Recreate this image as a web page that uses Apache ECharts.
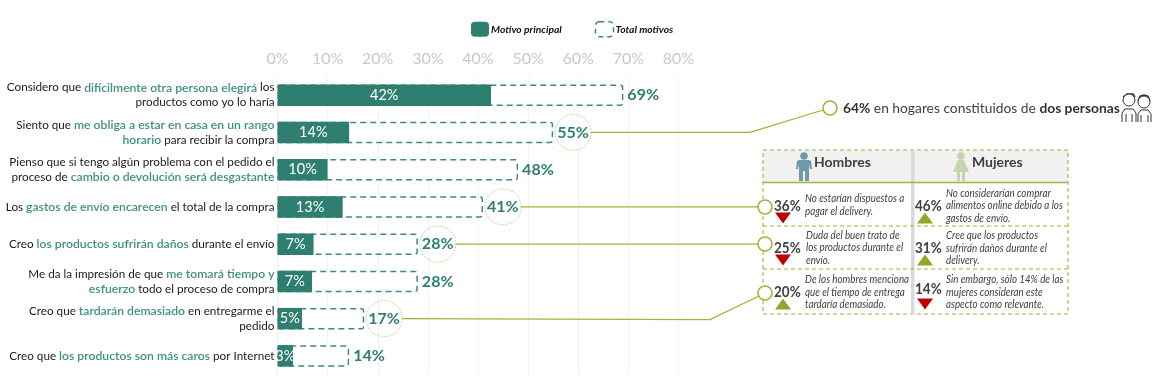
<!DOCTYPE html>
<html>
<head>
<meta charset="utf-8">
<style>
  html, body { margin: 0; padding: 0; background: #fff; }
  #main { width: 1162px; height: 389px; }
</style>
<script src="https://cdn.jsdelivr.net/npm/echarts@6/dist/echarts.min.js"></script>
</head>
<body>
<div id="main"></div>
<script>
// eje y barras
var categories = [
  'Considero que {g|difícilmente otra persona elegirá} los\nproductos como yo lo haría',
  'Siento que {g|me obliga a estar en casa en un rango}\n{g|horario} para recibir la compra',
  'Pienso que si tengo algún problema con el pedido el\nproceso de {g|cambio o devolución será desgastante}',
  'Los {g|gastos de envío encarecen} el total de la compra',
  'Creo {g|los productos sufrirán daños} durante el envío',
  'Me da la impresión de que {g|me tomará tiempo y}\n{g|esfuerzo} todo el proceso de compra',
  'Creo que {g|tardarán demasiado} en entregarme el\npedido',
  'Creo que {g|los productos son más caros} por Internet'
];
var motivoPrincipal = [42.6, 14.3, 10, 13, 7.2, 6.9, 4.9, 3.1];
var motivoLabels = ['42%', '14%', '10%', '13%', '7%', '7%', '5%', '3%'];
var totalMotivos = [69, 55, 48, 41, 28, 28, 17.3, 14.3];
var totalLabels = ['69%', '55%', '48%', '41%', '28%', '28%', '17%', '14%'];

// panel hombres / mujeres
var hombresPct = ['36%', '25%', '20%'];
var hombresDir = ['down', 'down', 'up'];
var hombresText = [
  'No estarían dispuestos a\npagar el delivery.',
  'Duda del buen trato de\nlos productos durante el\nenvío.',
  'De los hombres menciona\nque el tiempo de entrega\ntardaría demasiado.'
];
var mujeresPct = ['46%', '31%', '14%'];
var mujeresDir = ['up', 'up', 'down'];
var mujeresText = [
  'No considerarían comprar\nalimentos online debido a los\ngastos de envío.',
  'Cree que los productos\nsufrirán daños durante el\ndelivery.',
  'Sin embargo, sólo 14% de las\nmujeres consideran este\naspecto como relevante.'
];

var FONT = 'Lato, Carlito, sans-serif';
var TEAL = '#2f7f70';
var LIME = '#9ab83b';
var RED = '#c00000';
var OLIVE = '#8ea82c';

var myChart = echarts.init(document.getElementById('main'));

var option = {
  animation: false,
  textStyle: { fontFamily: FONT },
  legend: {
    left: 471,
    top: 21,
    itemWidth: 18,
    itemHeight: 15,
    itemGap: 33,
    padding: 0,
    selectedMode: false,
    data: [
      { name: 'Motivo principal' },
      { name: 'Total motivos', itemStyle: { color: '#fff', borderColor: '#3f8a7c', borderWidth: 1.4, borderType: [5, 4] } }
    ],
    textStyle: { fontFamily: FONT, fontSize: 10.3, fontStyle: 'italic', fontWeight: 'bold', color: '#111', padding: [0, 0, 0, -3] }
  },
  grid: { left: 277.5, top: 76.5, width: 401, height: 298, outerBoundsMode: 'none' },
  xAxis: {
    type: 'value',
    position: 'top',
    min: 0,
    max: 80,
    interval: 10,
    axisLine: { show: false },
    axisTick: { show: false },
    axisLabel: { formatter: '{value}%', color: '#c8c8c8', fontSize: 16, fontFamily: FONT, margin: 10 },
    splitLine: { lineStyle: { color: '#f2f2f2', width: 1 } }
  },
  yAxis: {
    type: 'category',
    inverse: true,
    data: categories,
    axisLine: { show: false },
    axisTick: { show: false },
    axisLabel: {
      margin: 3,
      color: '#1a1a1a',
      fontFamily: FONT,
      fontSize: 11.7,
      lineHeight: 15,
      rich: {
        g: { color: '#3f8f80', fontFamily: FONT, fontSize: 12.2, fontWeight: 600, lineHeight: 15 }
      }
    }
  },
  series: [
    {
      name: 'Total motivos',
      type: 'bar',
      data: totalMotivos,
      barWidth: 21.5,
      barGap: '-100%',
      z: 2,
      itemStyle: { color: '#fff', borderColor: '#3f8a7c', borderWidth: 1.5, borderType: [6, 4], borderRadius: 2 },
      label: {
        show: true,
        position: 'right',
        distance: 4,
        color: TEAL,
        fontFamily: FONT,
        fontSize: 16,
        fontWeight: 'bold',
        formatter: function (p) { return totalLabels[p.dataIndex]; }
      }
    },
    {
      name: 'Motivo principal',
      type: 'bar',
      data: motivoPrincipal,
      barWidth: 21.5,
      barGap: '-100%',
      z: 3,
      itemStyle: { color: TEAL },
      label: {
        show: true,
        position: 'inside',
        color: '#fff',
        fontFamily: FONT,
        fontSize: 14.5,
        formatter: function (p) { return motivoLabels[p.dataIndex]; }
      }
    }
  ]
};
myChart.setOption(option);

// anotaciones
function txt(x, y, text, fontSize, extra, scaleX) {
  var style = { x: 0, y: 0, text: text, fill: '#404040', font: fontSize + 'px ' + FONT, verticalAlign: 'middle' };
  for (var k in extra) style[k] = extra[k];
  return { type: 'text', z: 20, x: x, y: y, scaleX: scaleX || 1, style: style };
}
function line(points, color, width, dash) {
  return {
    type: 'polyline',
    z: 10,
    shape: { points: points },
    style: { stroke: color, lineWidth: width || 1.3, lineDash: dash || null, fill: null }
  };
}
function dot(x, y) {
  return { type: 'circle', z: 12, shape: { cx: x, cy: y, r: 7 }, style: { fill: '#fff', stroke: LIME, lineWidth: 1.6 } };
}
function ring(x, y) {
  return { type: 'circle', z: 11, shape: { cx: x, cy: y, r: 18 }, style: { fill: 'rgba(255,255,255,0)', stroke: '#b5c86e', lineWidth: 1, lineDash: [1.5, 1.5] } };
}
function tri(x, y, dir) {
  var w = 8, h = 11;
  var pts = dir === 'up'
    ? [[x - w, y + h / 2], [x + w, y + h / 2], [x, y - h / 2]]
    : [[x - w, y - h / 2], [x + w, y - h / 2], [x, y + h / 2]];
  return { type: 'polygon', z: 15, shape: { points: pts }, style: { fill: dir === 'up' ? OLIVE : RED } };
}
function rectBox(x, y, w, h, style) {
  return { type: 'rect', z: 5, shape: { x: x, y: y, width: w, height: h }, style: style };
}
function poly(points, fill) {
  return { type: 'polygon', z: 15, shape: { points: points }, style: { fill: fill } };
}

var els = [];

// circulos punteados sobre las etiquetas, salen de la posicion de cada barra
function ringAt(i) {
  var p = myChart.convertToPixel({ gridIndex: 0 }, [totalMotivos[i], i]);
  return [p[0] + 20, p[1]];
}
var r55 = ringAt(1), r41 = ringAt(3), r28 = ringAt(4), r17 = ringAt(6);
els.push(ring(r55[0], r55[1]), ring(r41[0], r41[1]), ring(r28[0], r28[1]), ring(r17[0], r17[1]));
els.push(line([[r55[0] + 18, r55[1]], [750, r55[1]], [823, 110]], LIME, 1.3));
els.push(line([[r41[0] + 18, r41[1]], [758, r41[1]]], LIME, 1.3));
els.push(line([[r28[0] + 18, r28[1]], [758, r28[1]]], LIME, 1.3));
els.push(line([[r17[0] + 18, r17[1]], [710, r17[1] + 1], [759, 296]], LIME, 1.3));
els.push(dot(830, 108), dot(765, 207), dot(765, 244), dot(765, 293));

els.push(txt(843, 109, '{b|64%} en hogares constituidos de {b|dos personas}', 13.8, {
  rich: { b: { fontFamily: FONT, fontSize: 13.8, fontWeight: 'bold', fill: '#333' } }
}));

// panel
els.push(rectBox(763, 150, 305, 32, { fill: '#f1f1f1' }));
els.push(rectBox(763, 150, 305, 164, { fill: 'rgba(255,255,255,0)', stroke: LIME, lineWidth: 1.1, lineDash: [4, 3] }));
els.push(line([[763, 182.5], [1068, 182.5]], LIME, 1.3));
els.push(line([[763, 226], [1068, 226]], LIME, 1.1, [4, 3]));
els.push(line([[763, 269], [1068, 269]], LIME, 1.1, [4, 3]));
els.push(rectBox(911, 150, 3.5, 165, { fill: '#d9d9d9' }));

els.push(txt(814, 162, 'Hombres', 14, { font: 'bold 14px ' + FONT }));
els.push(txt(972, 162, 'Mujeres', 14, { font: 'bold 14px ' + FONT }));

// figuras
els.push({ type: 'circle', z: 15, shape: { cx: 804, cy: 156, r: 3.8 }, style: { fill: '#6d9aa6' } });
els.push(poly([[799, 160], [809, 160], [811, 161], [812, 169], [810, 169], [809, 164], [809, 181], [805, 181], [805, 171], [803, 171], [803, 181], [799, 181], [799, 164], [798, 169], [796, 169], [797, 161]], '#6d9aa6'));
els.push({ type: 'circle', z: 15, shape: { cx: 961, cy: 156, r: 3.8 }, style: { fill: '#c5d4ab' } });
els.push(poly([[958, 160], [964, 160], [969, 172], [965, 172], [965, 181], [962, 181], [962, 172], [960, 172], [960, 181], [957, 181], [957, 172], [953, 172]], '#c5d4ab'));

// pareja
var coupleStroke = { fill: '#fff', stroke: '#333', lineWidth: 1 };
els.push({ type: 'circle', z: 15, shape: { cx: 1129, cy: 100, r: 6 }, style: coupleStroke });
els.push({ type: 'circle', z: 15, shape: { cx: 1144, cy: 102, r: 6 }, style: coupleStroke });
els.push(line([[1122, 122], [1122, 113], [1125, 109], [1133, 109], [1136, 113], [1136, 122]], '#333', 1));
els.push(line([[1126, 114], [1126, 122]], '#333', 1));
els.push(line([[1132, 114], [1132, 122]], '#333', 1));
els.push(line([[1138, 122], [1138, 114], [1141, 110], [1148, 110], [1151, 114], [1151, 122]], '#333', 1));
els.push(line([[1141, 115], [1141, 122]], '#333', 1));
els.push(line([[1148, 115], [1148, 122]], '#333', 1));
els.push(line([[1123, 97], [1127, 94], [1133, 94], [1135, 97]], '#333', 1.4));
els.push(line([[1138, 101], [1140, 96], [1144, 95], [1148, 96], [1150, 101]], '#333', 1.4));

// filas del panel
var pctY = { h: [206, 248, 292], m: [206, 248, 289] };
var triY = { h: [218, 260, 304], m: [218, 260, 304] };
var hText = [[805, 205], [806, 247.5], [805, 292]];
var mText = [[946, 205.5], [946, 248], [946, 292]];
var noteStyle = { font: 'italic 11.2px ' + FONT, lineHeight: 12.5, fill: '#404040' };
var pctStyle = { font: 'bold 15.5px ' + FONT };

for (var i = 0; i < 3; i++) {
  els.push(txt(774, pctY.h[i], hombresPct[i], 15.5, pctStyle, 0.87));
  els.push(tri(783, triY.h[i], hombresDir[i]));
  els.push(txt(hText[i][0], hText[i][1], hombresText[i], 11.2, noteStyle, 0.875));
  els.push(txt(915, pctY.m[i], mujeresPct[i], 15.5, pctStyle, 0.87));
  els.push(tri(925, triY.m[i], mujeresDir[i]));
  els.push(txt(mText[i][0], mText[i][1], mujeresText[i], 11.2, noteStyle, 0.875));
}

myChart.setOption({ graphic: { elements: els } });
</script>
</body>
</html>
